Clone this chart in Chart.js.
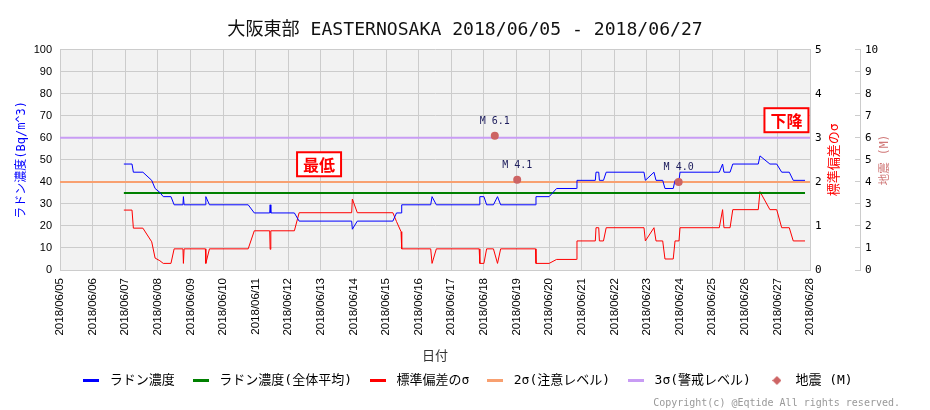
<!DOCTYPE html>
<html>
<head>
<meta charset="utf-8">
<script src="https://cdn.jsdelivr.net/npm/chart.js@4"></script>
<style>
html, body { margin: 0; padding: 0; background: #fff; }
</style>
</head>
<body>
<canvas id="chart" width="930" height="410"></canvas>
<script>
// Data (all times in June 2018)
const dateLabels = ['2018/06/05', '2018/06/06', '2018/06/07', '2018/06/08', '2018/06/09', '2018/06/10',
  '2018/06/11', '2018/06/12', '2018/06/13', '2018/06/14', '2018/06/15', '2018/06/16', '2018/06/17',
  '2018/06/18', '2018/06/19', '2018/06/20', '2018/06/21', '2018/06/22', '2018/06/23', '2018/06/24',
  '2018/06/25', '2018/06/26', '2018/06/27', '2018/06/28'];

const sampleTime = [
  '06/06 23:00', '06/07 05:00', '06/07 06:00', '06/07 13:00', '06/07 19:30', '06/07 22:00',
  '06/08 01:30', '06/08 04:00', '06/08 09:40', '06/08 12:00', '06/08 18:30', '06/08 18:50',
  '06/08 19:20', '06/09 11:00', '06/09 11:20', '06/09 14:00', '06/10 18:30', '06/10 23:00',
  '06/11 10:20', '06/11 10:40', '06/11 11:10', '06/12 04:30', '06/12 08:00', '06/13 22:40',
  '06/13 23:10', '06/14 02:50', '06/15 05:00', '06/15 07:40', '06/15 11:00', '06/15 11:30',
  '06/16 08:50', '06/16 09:50', '06/16 13:00', '06/17 20:30', '06/17 21:00', '06/18 00:00',
  '06/18 02:00', '06/18 07:00', '06/18 10:00', '06/18 12:20', '06/19 14:00', '06/19 14:20',
  '06/20 00:00', '06/20 05:30', '06/20 20:00', '06/20 20:30', '06/21 10:00', '06/21 10:30',
  '06/21 12:30', '06/21 13:00', '06/21 16:00', '06/21 18:00', '06/22 21:50', '06/22 22:50',
  '06/23 05:10', '06/23 06:40', '06/23 11:35', '06/23 13:15', '06/23 19:20', '06/23 20:40',
  '06/23 23:35', '06/24 00:20', '06/25 05:15', '06/25 07:40', '06/25 08:40', '06/25 13:10',
  '06/25 15:10', '06/26 09:55', '06/26 11:10', '06/26 18:30', '06/26 23:30', '06/27 03:10',
  '06/27 08:45', '06/27 11:40', '06/27 20:20'];

const radonValue = [
  48.1, 48.1, 44.4, 44.4, 40.7, 37.0,
  35.2, 33.3, 33.3, 29.6, 29.6, 33.3,
  29.6, 29.6, 33.3, 29.6, 29.6, 25.9,
  25.9, 29.6, 25.9, 25.9, 22.2, 22.2,
  18.5, 22.2, 22.2, 25.9, 25.9, 29.6,
  29.6, 33.3, 29.6, 29.6, 33.3, 33.3,
  29.6, 29.6, 33.3, 29.6, 29.6, 33.3,
  33.3, 37.0, 37.0, 40.7, 40.7, 44.4,
  44.4, 40.7, 40.7, 44.4, 44.4, 40.7,
  44.4, 40.7, 40.7, 37.0, 37.0, 40.7,
  40.7, 44.4, 44.4, 48.1, 44.4, 44.4,
  48.1, 48.1, 51.8, 48.1, 48.1, 44.4,
  44.4, 40.7, 40.7];

const sigmaValue = [
  1.36, 1.36, 0.95, 0.95, 0.64, 0.27,
  0.21, 0.15, 0.15, 0.48, 0.48, 0.15,
  0.48, 0.48, 0.15, 0.48, 0.48, 0.89,
  0.89, 0.47, 0.89, 0.89, 1.30, 1.30,
  1.61, 1.30, 1.30, 1.10, 0.87, 0.48,
  0.48, 0.15, 0.48, 0.48, 0.15, 0.15,
  0.48, 0.48, 0.15, 0.48, 0.48, 0.15,
  0.15, 0.24, 0.24, 0.66, 0.66, 0.96,
  0.96, 0.66, 0.66, 0.96, 0.96, 0.66,
  0.96, 0.66, 0.66, 0.25, 0.25, 0.66,
  0.66, 0.96, 0.96, 1.37, 0.96, 0.96,
  1.37, 1.37, 1.78, 1.37, 1.37, 0.96,
  0.96, 0.66, 0.66];

const radonAverage = 34.9;
const averageSpan = ['06/06 23:00', '06/27 20:20'];
const level2Sigma = 40;
const level3Sigma = 60;

const quakeTime = ['06/18 08:00', '06/19 00:30', '06/23 23:20'];
const quakeMag = [6.1, 4.1, 4.0];

const noteText = ['最低', '下降'];
const noteTime = ['06/12 22:40', '06/27 06:40'];
const noteLevel = [48, 68];

// Helpers
function toDay(s) {
  const [md, hm] = s.split(' ');
  const d = Number(md.split('/')[1]);
  const [h, mi] = hm.split(':').map(Number);
  return (d - 5) + h / 24 + mi / 1440;
}

function lineIcon(color) {
  const c = document.createElement('canvas');
  c.width = 16; c.height = 3;
  const g = c.getContext('2d');
  g.fillStyle = color;
  g.fillRect(0, 0, 16, 3);
  return c;
}

function diamondIcon(color) {
  const c = document.createElement('canvas');
  c.width = 9; c.height = 9;
  const g = c.getContext('2d');
  g.fillStyle = color;
  g.beginPath();
  g.moveTo(4.5, 0); g.lineTo(9, 4.5); g.lineTo(4.5, 9); g.lineTo(0, 4.5);
  g.closePath();
  g.fill();
  return c;
}

const CJK = "'Noto Sans CJK JP', sans-serif";
const MONO = "'DejaVu Sans Mono', 'Noto Sans CJK JP', monospace";
const SANS = "'Liberation Sans', 'Noto Sans CJK JP', sans-serif";
const quakeColor = '#cd6464';

const radonColor = '#0000ff', avgColor = '#008000', sigmaColor = '#ff0000';
const l2Color = '#f8a070', l3Color = '#c89cf4';
const legendIcons = [lineIcon(radonColor), lineIcon(avgColor), lineIcon(sigmaColor),
  lineIcon(l2Color), lineIcon(l3Color), diamondIcon(quakeColor)];

// Plugins
const plotBackground = {
  id: 'plotBackground',
  beforeDraw(chart) {
    const {ctx, chartArea: a} = chart;
    ctx.save();
    ctx.fillStyle = '#f2f2f2';
    ctx.fillRect(a.left, a.top, a.right - a.left, a.bottom - a.top);
    ctx.restore();
  }
};

// title and legend are centred on the whole canvas, not on the padded box
const centreShift = {
  id: 'centreShift',
  afterLayout(chart) {
    chart.legend.left += 16;
    chart.legend.right += 16;
    chart.titleBlock.left += 15;
    chart.titleBlock.right += 15;
  }
};

const quakeLabels = {
  id: 'quakeLabels',
  afterDatasetsDraw(chart) {
    const ctx = chart.ctx;
    const meta = chart.getDatasetMeta(5);
    ctx.save();
    ctx.font = "10px " + MONO;
    ctx.fillStyle = '#1c1c5c';
    ctx.textAlign = 'center';
    ctx.textBaseline = 'middle';
    meta.data.forEach((pt, i) => {
      ctx.fillText('M ' + quakeMag[i].toFixed(1), pt.x, pt.y - 14);
    });
    ctx.restore();
  }
};

const notes = {
  id: 'notes',
  afterDatasetsDraw(chart) {
    const {ctx, scales} = chart;
    ctx.save();
    ctx.font = "bold 16px " + CJK;
    ctx.textAlign = 'center';
    ctx.textBaseline = 'middle';
    noteText.forEach((t, i) => {
      const cx = scales.x.getPixelForValue(toDay(noteTime[i]));
      const cy = scales.y.getPixelForValue(noteLevel[i]);
      const w = ctx.measureText(t).width + 12, h = 24;
      ctx.fillStyle = '#ffffff';
      ctx.fillRect(cx - w / 2, cy - h / 2, w, h);
      ctx.strokeStyle = '#ff0000';
      ctx.lineWidth = 2;
      ctx.strokeRect(cx - w / 2, cy - h / 2, w, h);
      ctx.fillStyle = '#ff0000';
      ctx.fillText(t, cx, cy + 1);
    });
    ctx.restore();
  }
};

const rightTitles = {
  id: 'rightTitles',
  afterDraw(chart) {
    const {ctx, chartArea: a, scales} = chart;
    const cy = (a.top + a.bottom) / 2;
    [[scales.y1, '標準偏差のσ', '#ff0000', 13], [scales.y2, '地震 (M)', '#d07878', 11.5]].forEach(([s, text, color, size]) => {
      ctx.save();
      ctx.translate(s.left + 25, cy);
      ctx.rotate(-Math.PI / 2);
      ctx.font = size + "px " + MONO;
      ctx.fillStyle = color;
      ctx.textAlign = 'center';
      ctx.textBaseline = 'middle';
      ctx.fillText(text, 0, 0);
      ctx.restore();
    });
  }
};

// Chart
Chart.defaults.font.family = SANS;
Chart.defaults.color = '#000';

const line = (label, data, color, width, axis) => ({
  label, data, borderColor: color, backgroundColor: color, borderWidth: width,
  pointRadius: 0, yAxisID: axis, fill: false, tension: 0
});

new Chart(document.getElementById('chart'), {
  type: 'line',
  data: {
    datasets: [
      line('ラドン濃度', sampleTime.map((t, i) => ({x: toDay(t), y: radonValue[i]})), radonColor, 1, 'y'),
      line('ラドン濃度(全体平均)', averageSpan.map(t => ({x: toDay(t), y: radonAverage})), avgColor, 2, 'y'),
      line('標準偏差のσ', sampleTime.map((t, i) => ({x: toDay(t), y: sigmaValue[i]})), sigmaColor, 1, 'y1'),
      line('2σ(注意レベル)', [{x: 0, y: level2Sigma}, {x: dateLabels.length - 1, y: level2Sigma}], l2Color, 2, 'y'),
      line('3σ(警戒レベル)', [{x: 0, y: level3Sigma}, {x: dateLabels.length - 1, y: level3Sigma}], l3Color, 2, 'y'),
      {
        label: '地震 (M)',
        data: quakeTime.map((t, i) => ({x: toDay(t), y: quakeMag[i]})),
        yAxisID: 'y2', showLine: false, pointRadius: 4, pointHoverRadius: 4,
        backgroundColor: quakeColor, borderColor: quakeColor, borderWidth: 0, order: -1
      }
    ]
  },
  options: {
    responsive: false,
    animation: false,
    events: [],
    layout: { padding: { left: 0, right: 30, top: 0, bottom: 0 } },
    scales: {
      x: {
        type: 'linear', min: 0, max: dateLabels.length - 1,
        afterFit: s => { s.height = 90; },
        grid: { color: '#cccccc', drawTicks: false },
        border: { color: '#cccccc' },
        ticks: {
          stepSize: 1, autoSkip: false, maxRotation: 90, minRotation: 90, padding: 8,
          font: { size: 11.5 },
          callback: v => dateLabels[v]
        },
        title: {
          display: true, text: '日付', color: '#333',
          font: { family: CJK, size: 13, lineHeight: '10px' },
          padding: { top: 0, bottom: 0 }
        }
      },
      y: {
        position: 'left', min: 0, max: 100,
        afterFit: s => { s.width = 60; },
        grid: { color: '#cccccc', drawTicks: false },
        border: { color: '#cccccc' },
        ticks: { stepSize: 10, padding: 8, font: { size: 11 } },
        title: {
          display: true, text: 'ラドン濃度(Bq/m^3)', color: '#0000ff',
          font: { family: MONO, size: 12 },
          padding: { top: 15, bottom: 0 }
        }
      },
      y1: {
        position: 'right', min: 0, max: 5,
        afterFit: s => { s.width = 50; },
        grid: { drawOnChartArea: false, drawTicks: false },
        border: { color: '#cccccc' },
        ticks: { stepSize: 1, padding: 5, font: { family: MONO, size: 11 } }
      },
      y2: {
        position: 'right', min: 0, max: 10,
        afterFit: s => { s.width = 40; },
        grid: { drawOnChartArea: false, drawTicks: true, tickLength: -5, tickColor: '#cccccc' },
        border: { color: '#cccccc' },
        ticks: { stepSize: 1, padding: 10, font: { family: MONO, size: 11 } }
      }
    },
    plugins: {
      title: {
        display: true,
        text: '大阪東部 EASTERNOSAKA 2018/06/05 - 2018/06/27',
        color: '#111',
        font: { family: MONO, size: 18.1, weight: 'normal' },
        padding: { top: 19, bottom: 9 }
      },
      subtitle: {
        display: true, position: 'bottom', align: 'end',
        text: 'Copyright(c) @Eqtide All rights reserved.',
        color: '#999',
        font: { family: MONO, size: 10 },
        padding: { top: 0, bottom: 1 }
      },
      legend: {
        position: 'bottom',
        labels: {
          usePointStyle: true, pointStyleWidth: 24, padding: 14,
          font: { family: MONO, size: 13 }, color: '#000',
          generateLabels: chart => chart.data.datasets.map((ds, i) => ({
            text: ds.label, pointStyle: legendIcons[i], fillStyle: ds.borderColor,
            strokeStyle: ds.borderColor, lineWidth: 0, hidden: false, datasetIndex: i
          }))
        }
      },
      tooltip: { enabled: false }
    }
  },
  plugins: [plotBackground, centreShift, quakeLabels, notes, rightTitles]
});
</script>
</body>
</html>
